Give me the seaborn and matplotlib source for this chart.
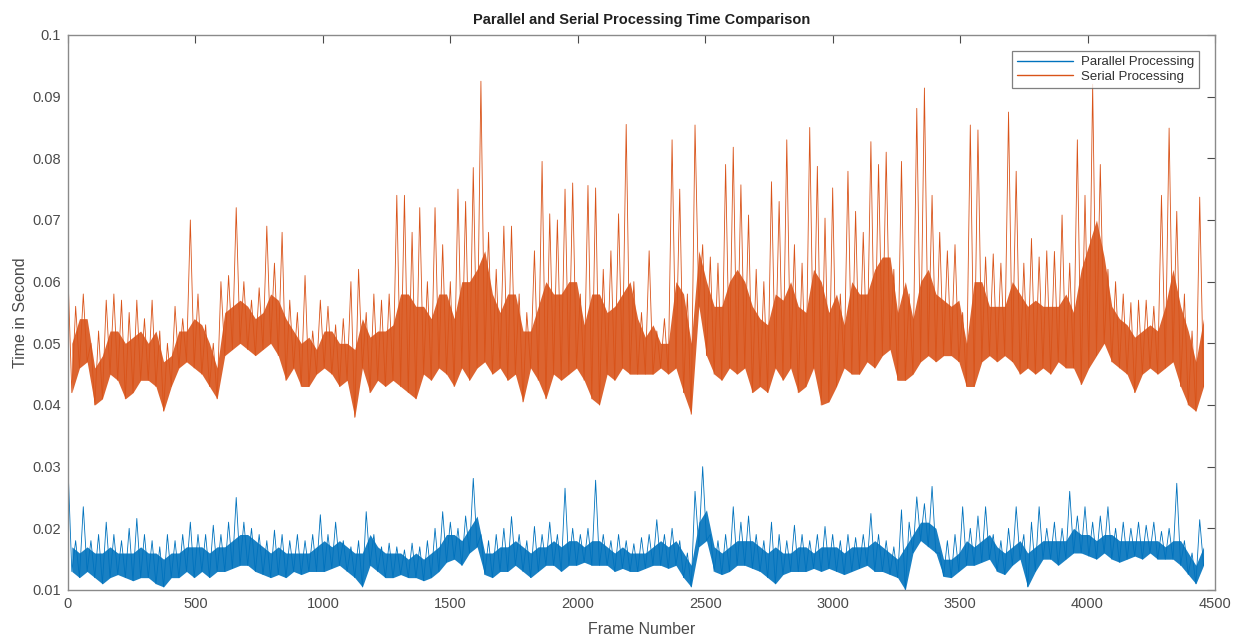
import numpy as np
import pandas as pd
import matplotlib
matplotlib.use('Agg')
import matplotlib.pyplot as plt
from matplotlib.lines import Line2D
import seaborn as sns

# 30-frame windows:
# hi = local max (spikes), lo = local min, core = top edge of the dense band
step = 30

serial_hi = [0.061, 0.056, 0.058, 0.050, 0.052, 0.057, 0.058, 0.057, 0.055, 0.057,
             0.054, 0.057, 0.052, 0.050, 0.056, 0.054, 0.070, 0.058, 0.053, 0.050,
             0.060, 0.061, 0.072, 0.060, 0.057, 0.059, 0.069, 0.063, 0.068, 0.057,
             0.055, 0.061, 0.052, 0.057, 0.056, 0.053, 0.054, 0.060, 0.062, 0.055,
             0.058, 0.057, 0.058, 0.074, 0.074, 0.068, 0.072, 0.060, 0.072, 0.066,
             0.060, 0.075, 0.073, 0.0785, 0.0925, 0.068, 0.062, 0.069, 0.069, 0.058,
             0.055, 0.065, 0.0795, 0.071, 0.070, 0.075, 0.076, 0.058, 0.0756, 0.0752,
             0.062, 0.065, 0.071, 0.0855, 0.060, 0.055, 0.065, 0.052, 0.054, 0.083,
             0.075, 0.058, 0.0854, 0.066, 0.064, 0.063, 0.079, 0.0818, 0.0757, 0.0708,
             0.062, 0.060, 0.0762, 0.073, 0.083, 0.066, 0.063, 0.085, 0.0787, 0.0703,
             0.0752, 0.058, 0.0779, 0.0714, 0.068, 0.0827, 0.079, 0.081, 0.062, 0.0795,
             0.058, 0.0881, 0.0914, 0.074, 0.068, 0.065, 0.066, 0.055, 0.0854, 0.0846,
             0.064, 0.0645, 0.063, 0.0875, 0.0779, 0.063, 0.067, 0.064, 0.065, 0.0649,
             0.0708, 0.063, 0.083, 0.074, 0.092, 0.079, 0.062, 0.060, 0.058, 0.0566,
             0.057, 0.057, 0.056, 0.074, 0.0849, 0.0714, 0.058, 0.052, 0.0737]

serial_lo = [0.042, 0.046, 0.047, 0.040, 0.041, 0.045, 0.044, 0.041, 0.042, 0.044,
             0.044, 0.043, 0.039, 0.043, 0.046, 0.047, 0.046, 0.045, 0.043, 0.041,
             0.048, 0.049, 0.050, 0.049, 0.048, 0.049, 0.050, 0.048, 0.044, 0.046,
             0.043, 0.043, 0.045, 0.046, 0.045, 0.043, 0.044, 0.038, 0.046, 0.042,
             0.044, 0.043, 0.044, 0.043, 0.042, 0.041, 0.045, 0.044, 0.046, 0.045,
             0.043, 0.046, 0.044, 0.046, 0.047, 0.045, 0.046, 0.044, 0.045, 0.0405,
             0.046, 0.044, 0.041, 0.045, 0.044, 0.045, 0.046, 0.044, 0.041, 0.040,
             0.045, 0.044, 0.046, 0.045, 0.045, 0.045, 0.045, 0.046, 0.045, 0.046,
             0.042, 0.0385, 0.056, 0.048, 0.045, 0.044, 0.046, 0.045, 0.046, 0.042,
             0.043, 0.042, 0.046, 0.044, 0.046, 0.042, 0.043, 0.046, 0.040, 0.0405,
             0.043, 0.046, 0.045, 0.045, 0.047, 0.046, 0.048, 0.049, 0.044, 0.044,
             0.045, 0.047, 0.048, 0.047, 0.048, 0.048, 0.047, 0.043, 0.043, 0.047,
             0.048, 0.047, 0.048, 0.047, 0.045, 0.046, 0.045, 0.046, 0.045, 0.047,
             0.046, 0.046, 0.0433, 0.046, 0.048, 0.050, 0.047, 0.046, 0.045, 0.042,
             0.045, 0.046, 0.045, 0.046, 0.047, 0.043, 0.040, 0.039, 0.043]

serial_core = [0.050, 0.054, 0.054, 0.046, 0.048, 0.052, 0.052, 0.050, 0.051, 0.052,
               0.050, 0.052, 0.047, 0.048, 0.052, 0.052, 0.054, 0.053, 0.050, 0.046,
               0.055, 0.056, 0.057, 0.056, 0.054, 0.055, 0.058, 0.057, 0.054, 0.052,
               0.050, 0.051, 0.049, 0.052, 0.052, 0.050, 0.050, 0.049, 0.054, 0.051,
               0.052, 0.052, 0.053, 0.058, 0.058, 0.056, 0.056, 0.054, 0.058, 0.058,
               0.054, 0.060, 0.060, 0.062, 0.065, 0.058, 0.055, 0.058, 0.058, 0.052,
               0.052, 0.056, 0.060, 0.058, 0.058, 0.060, 0.060, 0.053, 0.058, 0.058,
               0.055, 0.056, 0.058, 0.060, 0.054, 0.051, 0.053, 0.050, 0.050, 0.060,
               0.058, 0.050, 0.065, 0.060, 0.056, 0.056, 0.060, 0.062, 0.060, 0.056,
               0.054, 0.053, 0.058, 0.057, 0.060, 0.056, 0.055, 0.062, 0.060, 0.055,
               0.058, 0.053, 0.060, 0.058, 0.058, 0.062, 0.064, 0.064, 0.055, 0.060,
               0.054, 0.060, 0.062, 0.058, 0.057, 0.056, 0.057, 0.050, 0.060, 0.060,
               0.056, 0.056, 0.056, 0.060, 0.058, 0.056, 0.057, 0.056, 0.056, 0.056,
               0.058, 0.055, 0.062, 0.066, 0.070, 0.064, 0.056, 0.054, 0.053, 0.051,
               0.052, 0.053, 0.052, 0.056, 0.062, 0.056, 0.052, 0.047, 0.054]

par_hi = [0.030, 0.018, 0.0235, 0.018, 0.019, 0.021, 0.019, 0.018, 0.020, 0.0216,
          0.019, 0.018, 0.017, 0.019, 0.018, 0.019, 0.021, 0.019, 0.019, 0.0205,
          0.019, 0.021, 0.025, 0.021, 0.020, 0.019, 0.018, 0.0197, 0.019, 0.018,
          0.019, 0.018, 0.019, 0.0222, 0.019, 0.021, 0.018, 0.017, 0.018, 0.0227,
          0.019, 0.017, 0.0176, 0.017, 0.0165, 0.0176, 0.017, 0.018, 0.020, 0.0227,
          0.021, 0.020, 0.022, 0.0281, 0.019, 0.018, 0.019, 0.020, 0.0219, 0.019,
          0.018, 0.0203, 0.019, 0.021, 0.019, 0.0265, 0.020, 0.019, 0.020, 0.0278,
          0.019, 0.018, 0.019, 0.018, 0.0175, 0.0185, 0.019, 0.0214, 0.019, 0.020,
          0.018, 0.016, 0.026, 0.030, 0.019, 0.018, 0.019, 0.0235, 0.021, 0.022,
          0.019, 0.018, 0.021, 0.019, 0.018, 0.0205, 0.019, 0.018, 0.019, 0.0203,
          0.019, 0.018, 0.019, 0.0185, 0.019, 0.0224, 0.019, 0.018, 0.017, 0.023,
          0.021, 0.0251, 0.024, 0.0268, 0.016, 0.018, 0.019, 0.0235, 0.020, 0.022,
          0.0235, 0.019, 0.018, 0.020, 0.0235, 0.019, 0.021, 0.0235, 0.020, 0.021,
          0.020, 0.026, 0.022, 0.0235, 0.021, 0.022, 0.0235, 0.020, 0.021, 0.020,
          0.021, 0.0205, 0.021, 0.0195, 0.020, 0.0273, 0.018, 0.016, 0.0214]

par_lo = [0.013, 0.012, 0.013, 0.012, 0.011, 0.012, 0.0125, 0.012, 0.0115, 0.012,
          0.012, 0.011, 0.0105, 0.012, 0.012, 0.013, 0.012, 0.013, 0.012, 0.013,
          0.013, 0.0135, 0.014, 0.014, 0.013, 0.0125, 0.012, 0.0125, 0.012, 0.013,
          0.0125, 0.013, 0.013, 0.013, 0.0135, 0.014, 0.013, 0.012, 0.0105, 0.014,
          0.013, 0.012, 0.012, 0.0125, 0.012, 0.012, 0.0115, 0.012, 0.013, 0.0145,
          0.015, 0.014, 0.016, 0.017, 0.0125, 0.012, 0.013, 0.013, 0.014, 0.013,
          0.012, 0.013, 0.014, 0.014, 0.013, 0.014, 0.014, 0.0145, 0.014, 0.014,
          0.014, 0.013, 0.0135, 0.013, 0.013, 0.0135, 0.014, 0.014, 0.0135, 0.014,
          0.012, 0.0105, 0.017, 0.018, 0.013, 0.0125, 0.013, 0.014, 0.014, 0.0135,
          0.013, 0.012, 0.011, 0.0125, 0.013, 0.013, 0.013, 0.0135, 0.013, 0.0135,
          0.013, 0.0125, 0.013, 0.0135, 0.014, 0.013, 0.013, 0.0125, 0.012, 0.010,
          0.016, 0.018, 0.017, 0.016, 0.0122, 0.012, 0.013, 0.014, 0.014, 0.0145,
          0.015, 0.013, 0.0125, 0.014, 0.015, 0.0105, 0.013, 0.015, 0.015, 0.014,
          0.015, 0.016, 0.016, 0.0155, 0.015, 0.016, 0.015, 0.0145, 0.015, 0.0155,
          0.015, 0.016, 0.015, 0.015, 0.015, 0.014, 0.0125, 0.011, 0.014]

par_core = [0.017, 0.016, 0.017, 0.016, 0.016, 0.017, 0.016, 0.016, 0.016, 0.017,
            0.016, 0.016, 0.015, 0.016, 0.016, 0.017, 0.017, 0.017, 0.016, 0.017,
            0.017, 0.018, 0.019, 0.019, 0.018, 0.017, 0.016, 0.017, 0.016, 0.016,
            0.016, 0.016, 0.017, 0.018, 0.017, 0.018, 0.017, 0.016, 0.016, 0.019,
            0.017, 0.016, 0.016, 0.016, 0.015, 0.016, 0.015, 0.016, 0.017, 0.019,
            0.019, 0.018, 0.020, 0.022, 0.016, 0.016, 0.017, 0.017, 0.018, 0.017,
            0.016, 0.017, 0.017, 0.018, 0.017, 0.018, 0.018, 0.017, 0.018, 0.018,
            0.017, 0.016, 0.017, 0.016, 0.016, 0.016, 0.017, 0.018, 0.017, 0.018,
            0.016, 0.014, 0.021, 0.023, 0.017, 0.016, 0.017, 0.018, 0.018, 0.018,
            0.017, 0.016, 0.017, 0.016, 0.016, 0.017, 0.017, 0.016, 0.017, 0.017,
            0.017, 0.016, 0.017, 0.017, 0.017, 0.018, 0.017, 0.016, 0.015, 0.017,
            0.019, 0.021, 0.021, 0.020, 0.015, 0.015, 0.016, 0.018, 0.017, 0.018,
            0.019, 0.017, 0.016, 0.017, 0.018, 0.016, 0.017, 0.018, 0.018, 0.018,
            0.018, 0.020, 0.019, 0.019, 0.018, 0.019, 0.019, 0.018, 0.018, 0.018,
            0.018, 0.018, 0.018, 0.017, 0.018, 0.018, 0.016, 0.014, 0.017]

x_ticks = [0, 500, 1000, 1500, 2000, 2500, 3000, 3500, 4000, 4500]
y_ticks = [0.01, 0.02, 0.03, 0.04, 0.05, 0.06, 0.07, 0.08, 0.09, 0.1]
y_labels = ['0.01', '0.02', '0.03', '0.04', '0.05', '0.06', '0.07', '0.08', '0.09', '0.1']

blue = '#0072BD'
orange = '#D95319'


def to_frame(hi, lo):
    # hi at start of each window, lo half-way through
    k = np.arange(len(hi))
    frames = np.column_stack([k * step, k * step + step // 2]).ravel()
    vals = np.column_stack([hi, lo]).ravel()
    return pd.DataFrame({'frame': frames, 'time': vals})


par_df = to_frame(par_hi, par_lo)
ser_df = to_frame(serial_hi, serial_lo)
mid = np.arange(len(serial_hi)) * step + step // 2

sns.set_style('white')
plt.rcParams['font.family'] = ['Liberation Sans', 'DejaVu Sans']

fig = plt.figure(figsize=(12.34, 6.37), dpi=100)
ax = fig.add_axes([0.0551, 0.0738, 0.9295, 0.8713])

# dense core of each trace
ax.fill_between(mid, par_lo, par_core, color=blue, alpha=0.9, lw=0)
ax.fill_between(mid, serial_lo, serial_core, color=orange, alpha=0.9, lw=0)

sns.lineplot(data=par_df, x='frame', y='time', ax=ax, color=blue,
             linewidth=0.6, estimator=None, sort=False)
sns.lineplot(data=ser_df, x='frame', y='time', ax=ax, color=orange,
             linewidth=0.6, estimator=None, sort=False)

ax.set_xlim(0, 4500)
ax.set_ylim(0.01, 0.1)
ax.set_xticks(x_ticks)
ax.set_xticklabels([str(t) for t in x_ticks])
ax.set_yticks(y_ticks)
ax.set_yticklabels(y_labels)

axcol = '#4a4a4a'
for s in ax.spines.values():
    s.set_color('#8a8a8a')
    s.set_linewidth(1.0)
ax.tick_params(direction='in', top=True, right=True, length=6, width=0.8,
               color=axcol, labelcolor=axcol, labelsize=10.5, pad=5)

ax.set_title('Parallel and Serial Processing Time Comparison', fontsize=10.5,
             fontweight='bold', color='#202020', pad=8)
ax.set_xlabel('Frame Number', fontsize=11.5, color=axcol, labelpad=8)
ax.set_ylabel('Time in Second', fontsize=11.5, color=axcol, labelpad=3)

handles = [Line2D([], [], color=blue, lw=1.0), Line2D([], [], color=orange, lw=1.0)]
leg = ax.legend(handles, ['Parallel Processing', 'Serial Processing'],
                loc='upper right', fontsize=9.5, frameon=True, fancybox=False,
                handlelength=4.2, borderaxespad=1.2, borderpad=0.4,
                labelspacing=0.15, handletextpad=0.6)
leg.get_frame().set_edgecolor('#606060')
leg.get_frame().set_linewidth(0.9)
for t in leg.get_texts():
    t.set_color('#303030')

fig.savefig('out.png', dpi=100)
